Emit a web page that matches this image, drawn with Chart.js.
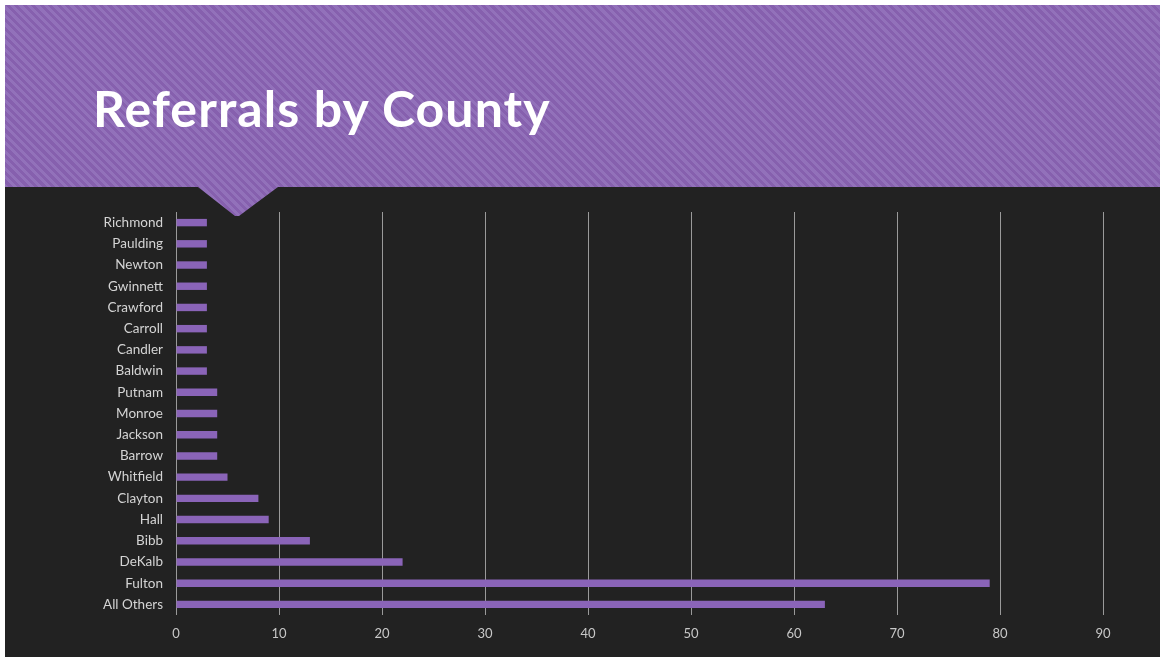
<!DOCTYPE html>
<html>
<head>
<meta charset="utf-8">
<script src="https://cdn.jsdelivr.net/npm/chart.js@4/dist/chart.umd.min.js"></script>
<style>
  html, body { margin: 0; padding: 0; background: #fff; }
  #page { position: relative; width: 1166px; height: 662px; overflow: hidden; }
  #slide { position: absolute; left: 5px; top: 5px; width: 1155px; height: 652px; background: #222222; }
  #header {
    position: absolute; left: 5px; top: 5px; width: 1155px; height: 212px;
    background: repeating-linear-gradient(45deg, #8660ae 0px, #8660ae 3px, #9271ba 3px, #9271ba 6px);
    clip-path: polygon(0 0, 1155px 0, 1155px 182px, 273px 182px, 234px 211px, 230px 211px, 193px 182px, 0 182px);
  }
  #title {
    position: absolute; left: 93px; top: 78px; margin: 0;
    font-family: "Lato", sans-serif; font-weight: 700; font-size: 50px;
    color: #ffffff; letter-spacing: 1.1px;
  }
  #chartBox { position: absolute; left: 0; top: 0; width: 1166px; height: 662px; }
</style>
</head>
<body>
<div id="page">
  <div id="slide"></div>
  <div id="header"></div>
  <h1 id="title">Referrals by County</h1>
  <div id="chartBox"><canvas id="countyChart"></canvas></div>
</div>
<script>
const counties = [
  "Richmond", "Paulding", "Newton", "Gwinnett", "Crawford", "Carroll", "Candler",
  "Baldwin", "Putnam", "Monroe", "Jackson", "Barrow", "Whitfield", "Clayton",
  "Hall", "Bibb", "DeKalb", "Fulton", "All Others"
];
const referrals = [3, 3, 3, 3, 3, 3, 3, 3, 4, 4, 4, 4, 5, 8, 9, 13, 22, 79, 63];
const xTicks = [0, 10, 20, 30, 40, 50, 60, 70, 80, 90];

const ctx = document.getElementById("countyChart");

new Chart(ctx, {
  type: "bar",
  data: {
    labels: counties,
    datasets: [
      {
        data: referrals,
        backgroundColor: "#8a64b8",
        borderWidth: 0,
        barPercentage: 0.7,
        categoryPercentage: 0.5,
      },
    ],
  },
  options: {
    indexAxis: "y",
    responsive: true,
    maintainAspectRatio: false,
    animation: false,
    layout: { padding: { top: 212, right: 63, left: 0, bottom: 0 } },
    plugins: {
      legend: { display: false },
      tooltip: { enabled: false },
    },
    scales: {
      x: {
        min: 0,
        max: 90,
        afterBuildTicks: axis => {
          axis.ticks = xTicks.map(v => ({ value: v }));
        },
        afterFit: axis => { axis.height = 47; },
        grid: { color: "#9a9a9a", lineWidth: 1, drawTicks: false },
        border: { display: false },
        ticks: {
          padding: 11,
          color: "#c8c8c8",
          font: { family: "Lato", size: 13 },
        },
      },
      y: {
        afterFit: axis => { axis.width = 176; },
        grid: { display: false },
        border: { display: false },
        ticks: {
          padding: 5,
          color: "#d4d4d4",
          font: { family: "Lato", size: 13.5 },
        },
      },
    },
  },
});
</script>
</body>
</html>
